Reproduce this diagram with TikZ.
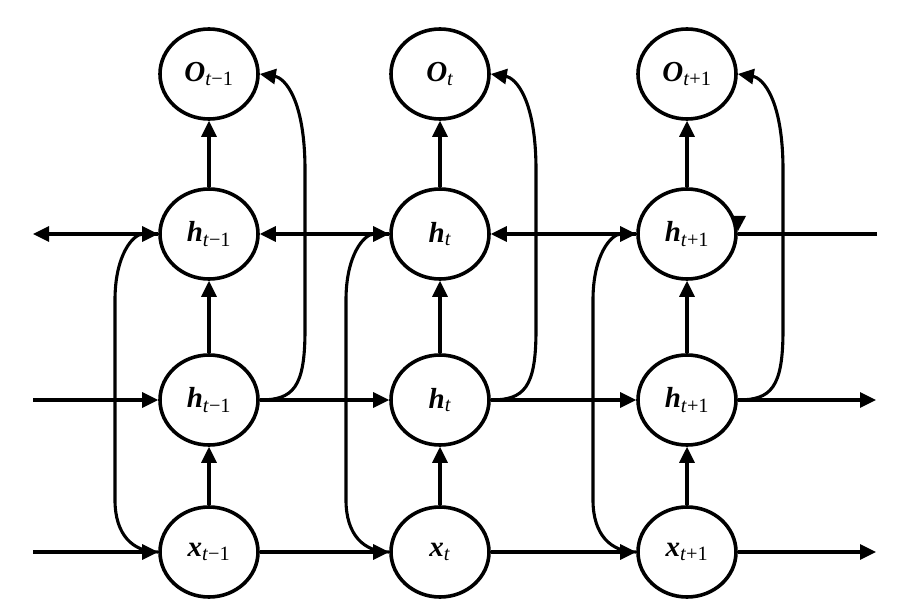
\documentclass[tikz,border=0pt]{standalone}
\usepackage{fontspec}
\setmainfont{Liberation Serif}
\usetikzlibrary{shapes.geometric,arrows.meta}
\newcommand\lbl[3]{\textbf{\textit{#1}}\textsubscript{\textit{#2}#3}}
\begin{document}
\begin{tikzpicture}[x=1pt,y=-1pt,
  unit/.style={ellipse,draw,line width=3.6pt,minimum width=98pt,minimum height=90pt,inner sep=0pt,
    font=\fontsize{29}{33}\selectfont},
  conn/.style={line width=3.1pt,-{Triangle[length=16pt,width=15pt]}},
  plain/.style={line width=3.1pt}]
\useasboundingbox (0,0) rectangle (913,612);
% nodes
\foreach \i/\cx/\s/\n in {1/209/t/{−1},2/440/t/{},3/687/t/{+1}}{
  \node[unit] (O\i)  at (\cx,74)  {\lbl{O}{\s}{\n}};
  \node[unit] (hb\i) at (\cx,234) {\lbl{h}{\s}{\n}};
  \node[unit] (hf\i) at (\cx,400) {\lbl{h}{\s}{\n}};
  \node[unit] (x\i)  at (\cx,552) {\lbl{x}{\s}{\n}};
}
% free ends
\coordinate (bL) at (33,234);
\coordinate (bR) at (877,234);
\coordinate (fL) at (33,400);
\coordinate (fR) at (876,400);
\coordinate (xL) at (33,552);
\coordinate (xR) at (876,552);
% vertical connectors
\foreach \i in {1,2,3}{
  \draw[conn] (hb\i) -- (O\i);
  \draw[conn] (hf\i) -- (hb\i);
  \draw[conn] (x\i) -- (hf\i);
}
% backward row
\draw[conn] (hb1.west) -- (bL);
\draw[conn] (hb2.west) -- (hb1.east);
\draw[conn] (hb3.west) -- (hb2.east);
\draw[plain] (bR) -- (hb3.east);
\fill (731,216) -- (746,216) -- (738,231) -- cycle;
% forward row
\draw[conn] (fL) -- (hf1.west);
\draw[conn] (hf1.east) -- (hf2.west);
\draw[conn] (hf2.east) -- (hf3.west);
\draw[conn] (hf3.east) -- (fR);
% input row
\draw[conn] (xL) -- (x1.west);
\draw[conn] (x1.east) -- (x2.west);
\draw[conn] (x2.east) -- (x3.west);
\draw[conn] (x3.east) -- (xR);
% curved connectors
\foreach \i/\cx in {1/209,2/440,3/687}{
  \pgfmathsetmacro\vb{\cx-94}
  \pgfmathsetmacro\vf{\cx+96}
  \draw[conn] (x\i.west) .. controls (\vb+18,552) and (\vb,535) .. (\vb,500)
     -- (\vb,300) .. controls (\vb,255) and (\vb+18,234) .. (hb\i.west);
  \draw[conn] (hf\i.east) .. controls (\vf-12,400) and (\vf,388) .. (\vf,330)
     -- (\vf,170) .. controls (\vf,100) and (\vf-20,78) .. (O\i.east);
}
\end{tikzpicture}
\end{document}
